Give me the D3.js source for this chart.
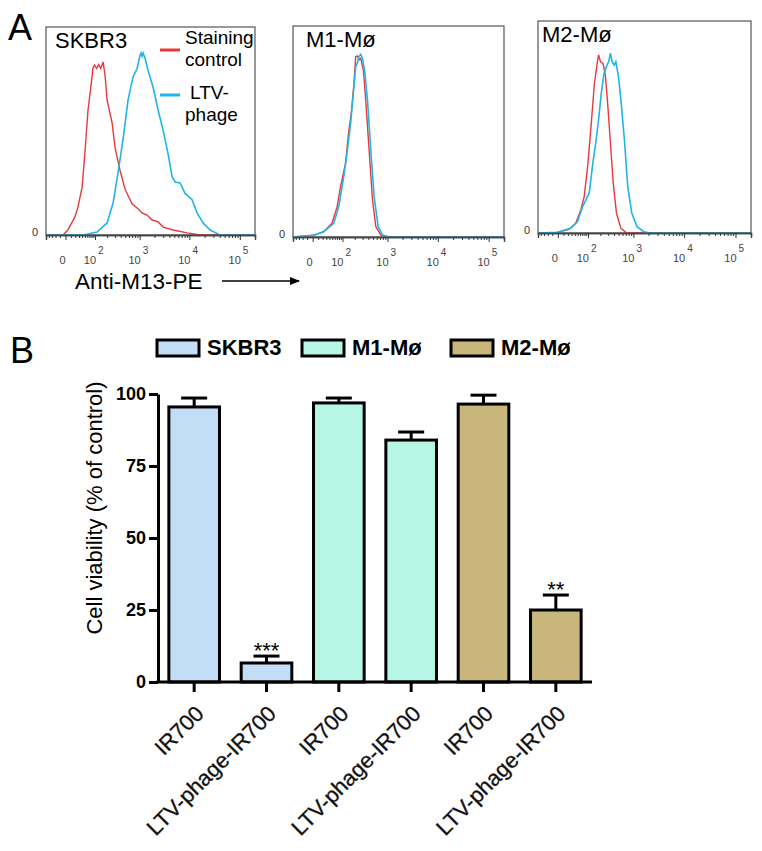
<!DOCTYPE html>
<html>
<head>
<meta charset="utf-8">
<script src="https://cdn.jsdelivr.net/npm/d3@7/dist/d3.min.js"></script>
<style>
  body { margin: 0; background: #fff; }
  text { font-family: "Liberation Sans", Arial, sans-serif; }
</style>
</head>
<body>
<svg id="fig" width="762" height="851"></svg>
<script>
// ---- panel A : flow histograms (anti-M13-PE intensity, % of max height) ----
const histNames = ["SKBR3", "M1-Mø", "M2-Mø"];
const majorTicks = [0, 1e2, 1e3, 1e4, 1e5];
const minorTicks = [-40, -30, -20, -10, 10, 20, 30, 40, 50, 60, 70, 80, 90,
  200, 300, 400, 500, 600, 700, 800, 900,
  2000, 3000, 4000, 5000, 6000, 7000, 8000, 9000,
  20000, 30000, 40000, 50000, 60000, 70000, 80000, 90000];

const skbrControl = [[-50, 0], [-4, 0], [4, 2.4], [19, 8.7], [27, 13.5], [40, 23], [51, 41], [63, 60], [83, 76], [87, 80],
  [96, 81.7], [111, 80.1], [125, 82], [140, 80.1], [160, 83.2], [178, 76.9], [199, 65], [259, 54], [302, 42], [388, 31],
  [497, 22], [697, 15], [885, 13], [1120, 10.6], [1420, 9.6], [1790, 7.2], [2370, 6.3], [2980, 3.8], [4720, 2.4],
  [9000, 1], [16300, 0], [200000, 0]];
const skbrPhage = [[-50, 0], [43, 0], [113, 1.4], [199, 5.8], [273, 15.4], [351, 30], [450, 46], [575, 65], [732, 76],
  [885, 80], [1020, 86.5], [1070, 87.5], [1120, 86], [1180, 87.5], [1290, 85], [1490, 79], [1880, 71], [2370, 60],
  [2980, 50.5], [3750, 39], [4520, 28], [5180, 25.5], [6520, 25], [8200, 20], [11300, 17], [14200, 10.6],
  [18700, 5.8], [25800, 2.4], [40700, 0], [200000, 0]];

const m1Control = [[-50, 0], [1.5, 0.8], [22.6, 2.5], [49, 6.5], [71, 14.4], [88.5, 23.8], [120, 35], [145, 50.7],
  [166, 58.6], [192, 72.8], [210, 85.4], [230, 85.8], [250, 83.9], [273, 84.7], [313, 79], [351, 65], [415, 41],
  [490, 17.5], [575, 4.9], [732, 0.9], [1005, 0], [200000, 0]];
const m1Phage = [[-50, 0], [1.5, 0.8], [22.6, 2.5], [56, 6.5], [79, 14.4], [108, 28.6], [133, 41], [160, 54],
  [185, 68], [210, 80.7], [230, 82.5], [250, 85.5], [273, 86.6], [297, 84.7], [334, 78.3], [383, 65], [450, 41],
  [530, 19], [643, 4.9], [794, 0.9], [1085, 0], [200000, 0]];

const m2Control = [[-50, 0], [-1, 0.3], [22.6, 1.7], [43, 4.6], [63, 10.8], [79, 17.1], [98, 31.3], [120, 50.3],
  [145, 70.4], [169, 80], [182, 84], [202, 80.8], [230, 80], [259, 74.5], [287, 62.9], [323, 47.2], [383, 23.7],
  [450, 9.3], [556, 2.2], [732, 0], [200000, 0]];
const m2Phage = [[-50, 0], [-1, 0.3], [27, 2.2], [49, 5.3], [71, 12.4], [88.5, 15.7], [108, 18.9], [133, 33],
  [160, 43.9], [182, 53.3], [210, 65.9], [242, 75.3], [273, 78.5], [307, 80.8], [334, 84.8], [364, 80.8],
  [402, 79.2], [435, 80.8], [490, 74.5], [556, 62.9], [655, 44], [767, 21.9], [928, 9.3], [1180, 3.0],
  [1610, 0.6], [2190, 0], [200000, 0]];

const controlSeries = [skbrControl, m1Control, m2Control];
const phageSeries = [skbrPhage, m1Phage, m2Phage];

// ---- panel B : cell viability ----
const treatments = ["IR700", "LTV-phage-IR700", "IR700", "LTV-phage-IR700", "IR700", "LTV-phage-IR700"];
const cellTypes = ["SKBR3", "SKBR3", "M1-Mø", "M1-Mø", "M2-Mø", "M2-Mø"];
const viability = [95.5, 6.6, 96.9, 84.0, 96.5, 25.0];
const viabilitySem = [3.1, 2.4, 1.7, 2.8, 3.1, 5.2];
const signif = ["", "***", "", "", "", "**"];
const viabilityTicks = [0, 25, 50, 75, 100];

const red = "#e8383d", cyan = "#1fb5e8";
const fillOf = { "SKBR3": "#c2ddf6", "M1-Mø": "#b5f6e5", "M2-Mø": "#c8b67b" };

const svg = d3.select("#fig");

// panel boxes (left, right, top, baseline)
const boxes = [
  { x0: 46, x1: 255, top: 27, base: 235 },
  { x0: 293, x1: 504, top: 26, base: 237 },
  { x0: 538, x1: 751, top: 21, base: 233 }
];

boxes.forEach((b, i) => {
  const g = svg.append("g");
  const x = d3.scaleSymlog().constant(35).domain([-50, 200000]).range([b.x0, b.x1]);
  const y = d3.scaleLinear().domain([0, 100]).range([b.base, b.top]);

  g.append("rect").attr("x", b.x0).attr("y", b.top).attr("width", b.x1 - b.x0).attr("height", b.base - b.top)
    .attr("fill", "none").attr("stroke", "#555").attr("stroke-width", 1.2);

  const line = d3.line().x(d => x(d[0])).y(d => y(d[1]));
  g.append("path").datum(controlSeries[i]).attr("d", line).attr("fill", "none").attr("stroke", red).attr("stroke-width", 1.4);
  g.append("path").datum(phageSeries[i]).attr("d", line).attr("fill", "none").attr("stroke", cyan).attr("stroke-width", 1.6);

  const axMinor = g.append("g").attr("transform", `translate(0,${b.base})`)
    .call(d3.axisBottom(x).tickValues(minorTicks).tickSize(3).tickFormat(""));
  const axMajor = g.append("g").attr("transform", `translate(0,${b.base})`)
    .call(d3.axisBottom(x).tickValues(majorTicks).tickSize(5).tickFormat(""));
  [axMinor, axMajor].forEach(a => {
    a.select(".domain").attr("stroke", "#444").attr("stroke-width", 1.4);
    a.selectAll(".tick line").attr("stroke", "#333").attr("stroke-width", 1);
  });

  // decade labels: "10" with the exponent as a raised text beside it
  majorTicks.forEach(v => {
    const tx = x(v);
    if (v === 0) {
      g.append("text").attr("x", tx - 3).attr("y", b.base + 29).attr("text-anchor", "middle")
        .attr("font-size", 11).attr("fill", "#444").text("0");
      return;
    }
    g.append("text").attr("x", tx + 1).attr("y", b.base + 29).attr("text-anchor", "end")
      .attr("font-size", 11).attr("fill", "#444").text("10");
    g.append("text").attr("x", tx + 3).attr("y", b.base + 19).attr("text-anchor", "start")
      .attr("font-size", 10).attr("fill", "#444").text(Math.round(Math.log10(v)));
  });

  g.append("text").attr("x", b.x0 - 8).attr("y", b.base + 1).attr("text-anchor", "end")
    .attr("font-size", 11).attr("fill", "#333").text("0");

  g.append("text").attr("x", b.x0 + [9, 13, 4][i]).attr("y", b.top + 21)
    .attr("font-size", 22).text(histNames[i]);
});

// legend of panel A
const legA = svg.append("g");
[[red, 50, ["Staining", "control"], -6], [cyan, 95, ["LTV-", "phage"], 4]].forEach(([c, ly, lines, off]) => {
  legA.append("line").attr("x1", 160).attr("x2", 180).attr("y1", ly).attr("y2", ly).attr("stroke", c).attr("stroke-width", 3);
  lines.forEach((s, k) => legA.append("text").attr("x", 185 + (s === "LTV-" ? 5 : 0)).attr("y", ly + off + k * 22)
    .attr("font-size", 19).text(s));
});

svg.append("text").attr("x", 8).attr("y", 40).attr("font-size", 36).text("A");
svg.append("text").attr("x", 75).attr("y", 289).attr("font-size", 22.5).text("Anti-M13-PE");
svg.append("defs").append("marker").attr("id", "arr").attr("viewBox", "0 0 10 10").attr("refX", 9).attr("refY", 5)
  .attr("markerWidth", 7).attr("markerHeight", 7).attr("orient", "auto")
  .append("path").attr("d", "M0,1L10,5L0,9z").attr("fill", "#000");
svg.append("line").attr("x1", 222).attr("x2", 299).attr("y1", 281).attr("y2", 281)
  .attr("stroke", "#000").attr("stroke-width", 1.5).attr("marker-end", "url(#arr)");

// ---- panel B ----
svg.append("text").attr("x", 10).attr("y", 363).attr("font-size", 36).text("B");

const xB = d3.scaleBand().domain(d3.range(treatments.length)).range([158, 592]).paddingInner(0.3).paddingOuter(0.15);
const yB = d3.scaleLinear().domain([0, 100]).range([682, 394]);

const gB = svg.append("g");
gB.selectAll("rect.bar").data(viability).join("rect").attr("class", "bar")
  .attr("x", (d, i) => xB(i)).attr("width", xB.bandwidth())
  .attr("y", d => yB(d)).attr("height", d => yB(0) - yB(d))
  .attr("fill", (d, i) => fillOf[cellTypes[i]]).attr("stroke", "#000").attr("stroke-width", 3);

viability.forEach((v, i) => {
  const cx = xB(i) + xB.bandwidth() / 2;
  const top = yB(v + viabilitySem[i]);
  gB.append("line").attr("x1", cx).attr("x2", cx).attr("y1", yB(v)).attr("y2", top).attr("stroke", "#000").attr("stroke-width", 3);
  gB.append("line").attr("x1", cx - 13).attr("x2", cx + 13).attr("y1", top).attr("y2", top).attr("stroke", "#000").attr("stroke-width", 3);
  if (signif[i]) gB.append("text").attr("x", cx).attr("y", top + 2).attr("text-anchor", "middle")
    .attr("font-size", 22).text(signif[i]);
});

const yAx = gB.append("g").attr("transform", "translate(158,0)")
  .call(d3.axisLeft(yB).tickValues(viabilityTicks).tickSize(9).tickSizeOuter(0).tickPadding(3));
const xAx = gB.append("g").attr("transform", "translate(0,682)")
  .call(d3.axisBottom(xB).tickSize(10).tickSizeOuter(0).tickFormat(i => treatments[i]));
[yAx, xAx].forEach(a => {
  a.select(".domain").attr("stroke", "#000").attr("stroke-width", 3);
  a.selectAll(".tick line").attr("stroke", "#000").attr("stroke-width", 3);
});
yAx.selectAll(".tick text").attr("font-size", 18).attr("font-weight", "bold").attr("fill", "#000")
  .attr("font-family", "'Liberation Sans', Arial, sans-serif");
xAx.select(".domain").attr("d", "M156.5,0H592");
xAx.selectAll(".tick text").attr("font-size", 22).attr("fill", "#111")
  .attr("font-family", "'Liberation Sans', Arial, sans-serif")
  .attr("stroke", "#111").attr("stroke-width", 0.3)
  .attr("text-anchor", "end").attr("dy", null).attr("y", 0)
  .attr("transform", "translate(11,33) rotate(-45)");

svg.append("text").attr("transform", "translate(102,508) rotate(-90)").attr("text-anchor", "middle")
  .attr("font-size", 22).text("Cell viability (% of control)");

// legend of panel B
const legX = [157, 302, 451];
["SKBR3", "M1-Mø", "M2-Mø"].forEach((name, k) => {
  svg.append("rect").attr("x", legX[k]).attr("y", 340).attr("width", 42).attr("height", 16)
    .attr("fill", fillOf[name]).attr("stroke", "#000").attr("stroke-width", 3);
  svg.append("text").attr("x", legX[k] + 50).attr("y", 355).attr("font-size", 22).attr("font-weight", "bold").text(name);
});
</script>
</body>
</html>
